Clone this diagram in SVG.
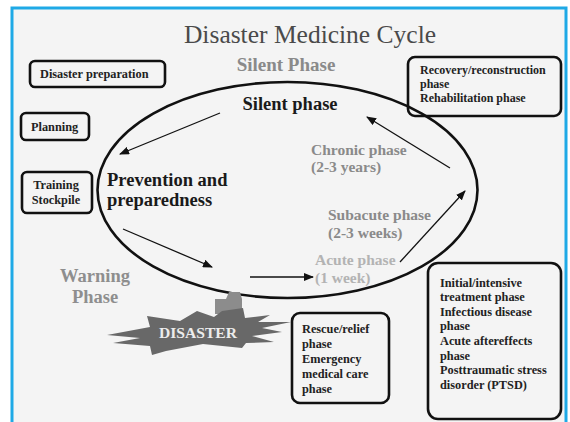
<svg xmlns="http://www.w3.org/2000/svg" width="570" height="422" viewBox="0 0 570 422">
  <style>
    .box { fill: none; stroke: #111; stroke-width: 2.6; }
    .bt { font-family: "Liberation Serif", serif; font-weight: bold; font-size: 12.3px; fill: #222; }
    .big { font-family: "Liberation Serif", serif; font-weight: bold; font-size: 18.5px; fill: #1a1a1a; }
    .warn { fill: #8e8e8e; }
    .gray { font-family: "Liberation Serif", serif; font-weight: bold; font-size: 15.5px; fill: #8a8a8a; }
    .light { fill: #b3b3b3; }
    .conn { fill: none; stroke: #111; stroke-width: 1.3; }
  </style>
  <defs>
    <marker id="ah" viewBox="0 0 10 8" refX="9" refY="4" markerWidth="10" markerHeight="8" markerUnits="userSpaceOnUse" orient="auto">
      <path d="M0,0 L10,4 L0,8 z" fill="#111"/>
    </marker>
  </defs>
  <rect x="0" y="0" width="570" height="422" fill="#ffffff"/>
  <rect x="12" y="8" width="554" height="420" fill="#f4f4f4" stroke="#1ea9e6" stroke-width="3"/>

  <g id="title">
    <text x="310" y="43" text-anchor="middle" font-family="Liberation Serif, serif" font-size="25.5" fill="#4a4a4a">Disaster Medicine Cycle</text>
  </g>
  <g id="silent-phase-header">
    <text x="286" y="71" text-anchor="middle" font-family="Liberation Serif, serif" font-weight="bold" font-size="19" fill="#8a8a8a">Silent Phase</text>
  </g>

  <g id="cycle">
    <ellipse cx="287.5" cy="190" rx="190" ry="108" fill="none" stroke="#111" stroke-width="2.6"/>
  </g>

  <g id="disaster-preparation">
    <rect class="box" x="30" y="61" width="135" height="26" rx="5"/>
    <text class="bt" x="40" y="78">Disaster preparation</text>
  </g>
  <g id="planning">
    <rect class="box" x="21" y="113" width="68" height="27" rx="5"/>
    <text class="bt" x="31" y="131">Planning</text>
  </g>
  <g id="training-stockpile">
    <rect class="box" x="22" y="172" width="70" height="41" rx="5"/>
    <text class="bt" x="56" y="189" text-anchor="middle">Training</text>
    <text class="bt" x="56" y="204" text-anchor="middle">Stockpile</text>
  </g>
  <g id="recovery">
    <rect class="box" x="408" y="57" width="153" height="59" rx="7"/>
    <text class="bt" x="420" y="74" style="font-size:12px">Recovery/reconstruction</text>
    <text class="bt" x="420" y="88" style="font-size:12px">phase</text>
    <text class="bt" x="420" y="102" style="font-size:12px">Rehabilitation phase</text>
  </g>

  <g id="silent-phase">
    <text class="big" x="290" y="110" text-anchor="middle">Silent phase</text>
  </g>
  <g id="prevention">
    <text class="big" x="107" y="186">Prevention and</text>
    <text class="big" x="107" y="206">preparedness</text>
  </g>
  <g id="warning">
    <text class="big warn" x="95" y="282" text-anchor="middle">Warning</text>
    <text class="big warn" x="95" y="303" text-anchor="middle">Phase</text>
  </g>
  <g id="chronic">
    <text class="gray" x="311" y="155">Chronic phase</text>
    <text class="gray" x="311" y="172">(2-3 years)</text>
  </g>
  <g id="subacute">
    <text class="gray" x="328" y="220">Subacute phase</text>
    <text class="gray" x="328" y="238">(2-3 weeks)</text>
  </g>
  <g id="acute">
    <text class="gray light" x="315" y="265">Acute phase</text>
    <text class="gray light" x="315" y="283">(1 week)</text>
  </g>

  <g id="connectors">
    <line class="conn" x1="220" y1="113" x2="120" y2="154" marker-end="url(#ah)"/>
    <line class="conn" x1="123" y1="229" x2="212" y2="267" marker-end="url(#ah)"/>
    <line class="conn" x1="250" y1="277" x2="313" y2="277" marker-end="url(#ah)"/>
    <line class="conn" x1="400" y1="262" x2="465" y2="191" marker-end="url(#ah)"/>
    <line class="conn" x1="450" y1="168" x2="367" y2="117" marker-end="url(#ah)"/>
  </g>

  <g id="disaster">
    <path d="M215,299 L226,299 L229,292 L240,292 L242,299 L242,314 L215,314 z" fill="#8c8c8c"/>
    <polygon fill="#686868" points="107,335 150,327 147,316 180,321 197,311 214,317 222,311 243,308 245,318 270,315 258,322 291,322 262,328 282,332 252,336 274,342 246,343 242,348 203,344 166,351 152,355 150,346 113,343 140,338"/>
    <text x="198" y="338" text-anchor="middle" font-family="Liberation Serif, serif" font-weight="bold" font-size="15.6" fill="#ececec">DISASTER</text>
  </g>

  <g id="rescue">
    <rect class="box" x="292" y="313" width="97" height="90" rx="8"/>
    <text class="bt" x="302" y="333">Rescue/relief</text>
    <text class="bt" x="302" y="348">phase</text>
    <text class="bt" x="302" y="363">Emergency</text>
    <text class="bt" x="302" y="378">medical care</text>
    <text class="bt" x="302" y="393">phase</text>
  </g>

  <g id="initial">
    <rect class="box" x="428" y="263" width="133" height="156" rx="10"/>
    <text class="bt" x="440" y="287">Initial/intensive</text>
    <text class="bt" x="440" y="301">treatment phase</text>
    <text class="bt" x="440" y="316">Infectious disease</text>
    <text class="bt" x="440" y="330">phase</text>
    <text class="bt" x="440" y="345">Acute aftereffects</text>
    <text class="bt" x="440" y="360">phase</text>
    <text class="bt" x="440" y="374">Posttraumatic stress</text>
    <text class="bt" x="440" y="389">disorder (PTSD)</text>
  </g>
</svg>
